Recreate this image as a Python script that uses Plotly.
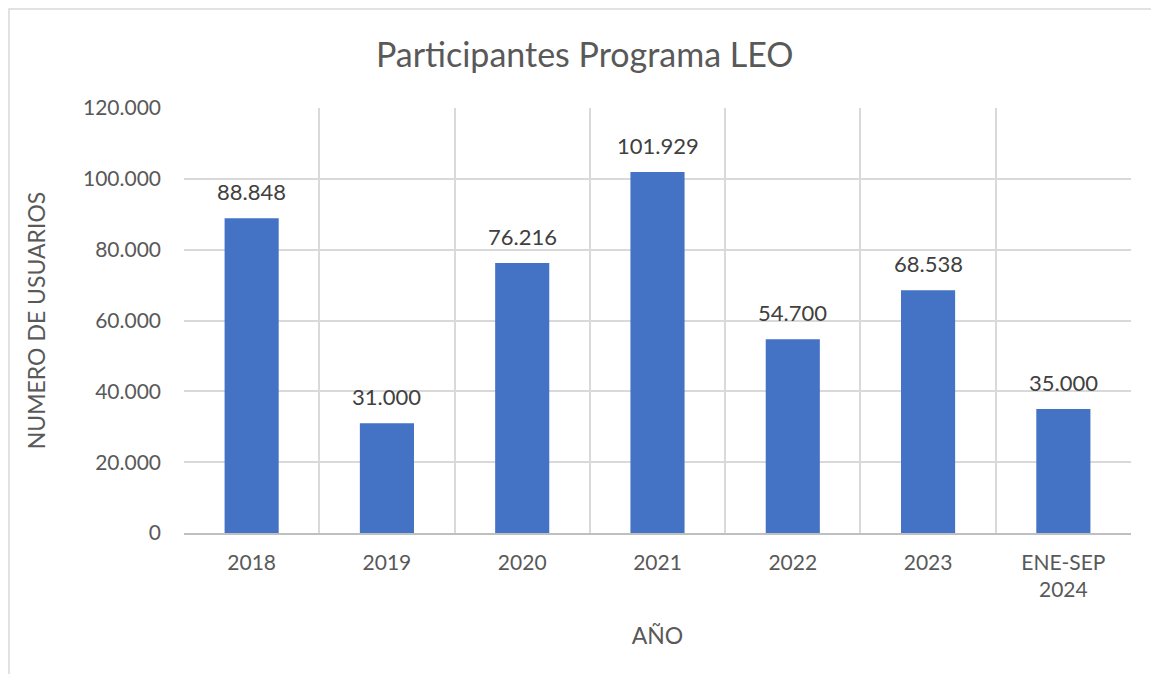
import plotly.graph_objects as go

categories = ["2018", "2019", "2020", "2021", "2022", "2023", "ENE-SEP<br>2024"]
values = [88848, 31000, 76216, 101929, 54700, 68538, 35000]
y_tickvals = [0, 20000, 40000, 60000, 80000, 100000, 120000]

FONT = "Lato, 'Open Sans', sans-serif"
GRID = "#d9d9d9"

fig = go.Figure(go.Bar(
    x=categories, y=values,
    marker=dict(color="#4472C4", line=dict(width=0)),
    width=0.4,
))

for i, v in enumerate(values):
    fig.add_annotation(x=i, y=v, xref="x", yref="y", text=f"{v:,}".replace(",", "."),
                       showarrow=False, yanchor="middle", yshift=27,
                       font=dict(family=FONT, size=22, color="#404040"))

fig.update_layout(
    width=1151, height=674,
    margin=dict(l=184, r=20, t=108, b=141),
    paper_bgcolor="white", plot_bgcolor="white",
    separators=",.",
    showlegend=False,
    title=dict(text="Participantes Programa LEO", x=0.508, xanchor="center",
               y=0.918, yanchor="middle",
               font=dict(family=FONT, size=34, color="#595959")),
    font=dict(family=FONT, color="#595959"),
    xaxis=dict(
        type="category", tickson="boundaries",
        showgrid=True, gridcolor=GRID, gridwidth=1.5,
        showline=True, linecolor="#bfbfbf", linewidth=1.5,
        ticks="", tickfont=dict(family=FONT, size=21, color="#595959"),
        ticklabelstandoff=10,
        title=dict(text="AÑO", font=dict(family=FONT, size=23, color="#595959"), standoff=28),
        range=[-0.5, 6.5],
    ),
    yaxis=dict(
        range=[0, 120000], tickvals=y_tickvals, tickformat=",",
        showgrid=True, gridcolor=GRID, gridwidth=1.5,
        zeroline=False, showline=False, ticks="",
        tickfont=dict(family=FONT, size=21, color="#595959"),
        ticklabelstandoff=22,
        title=dict(text="NUMERO DE USUARIOS", font=dict(family=FONT, size=23, color="#595959"), standoff=30),
    ),
    bargap=0.6,
)

# outer chart border (Excel chart area), partially visible
fig.add_shape(type="rect", xref="paper", yref="paper",
              x0=-0.1848, x1=1.2, y0=-0.6, y1=1.2329,
              line=dict(color=GRID, width=1.5), fillcolor="rgba(0,0,0,0)", layer="below")

fig.write_html("out.html")
